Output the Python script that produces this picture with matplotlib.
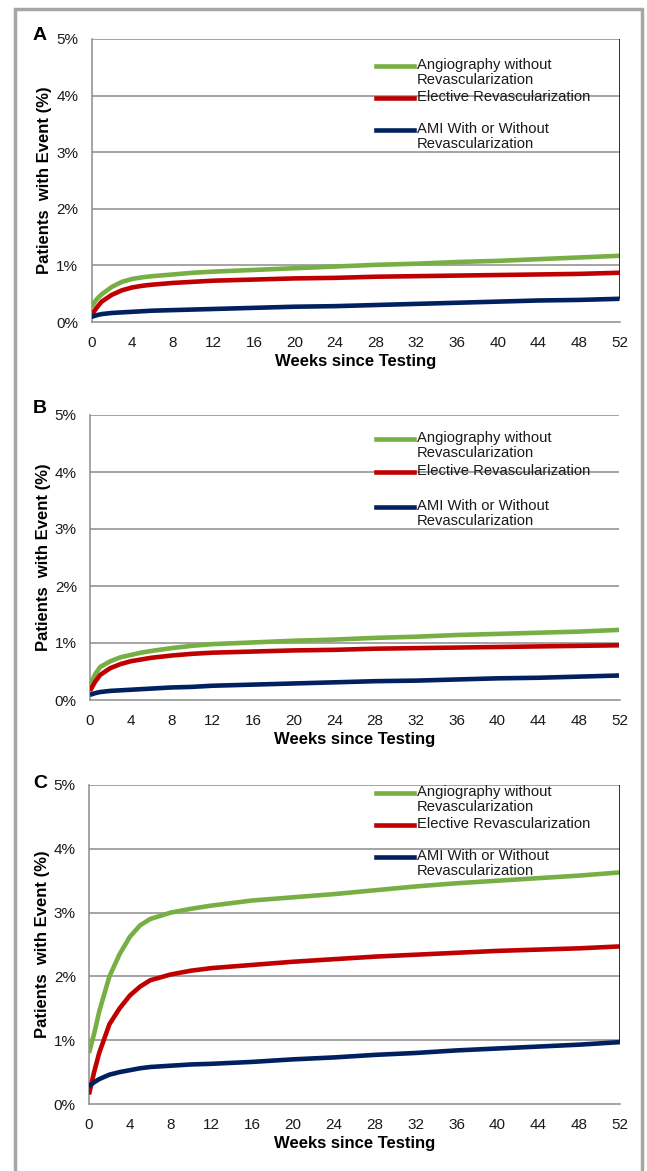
import matplotlib
matplotlib.use("Agg")
import matplotlib.pyplot as plt
from matplotlib.patches import Rectangle
from matplotlib.lines import Line2D

plt.rcParams['font.family'] = ['Liberation Sans', 'DejaVu Sans']

# data (percent of patients with event)
weeks = [0, 0.5, 1, 2, 3, 4, 5, 6, 8, 10, 12, 16, 20, 24, 28, 32, 36, 40, 44, 48, 52]

angio_a = [0.27, 0.40, 0.49, 0.62, 0.71, 0.76, 0.79, 0.81, 0.84, 0.87, 0.89, 0.92, 0.95, 0.98, 1.01, 1.03, 1.06, 1.08, 1.11, 1.14, 1.17]
elect_a = [0.12, 0.25, 0.36, 0.48, 0.56, 0.61, 0.64, 0.66, 0.69, 0.71, 0.73, 0.75, 0.77, 0.78, 0.80, 0.81, 0.82, 0.83, 0.84, 0.85, 0.87]
ami_a = [0.09, 0.12, 0.14, 0.16, 0.17, 0.18, 0.19, 0.20, 0.21, 0.22, 0.23, 0.25, 0.27, 0.28, 0.30, 0.32, 0.34, 0.36, 0.38, 0.39, 0.41]

angio_b = [0.26, 0.45, 0.58, 0.68, 0.75, 0.79, 0.83, 0.86, 0.91, 0.95, 0.98, 1.01, 1.04, 1.06, 1.09, 1.11, 1.14, 1.16, 1.18, 1.20, 1.23]
elect_b = [0.16, 0.32, 0.44, 0.56, 0.63, 0.68, 0.71, 0.74, 0.78, 0.81, 0.83, 0.85, 0.87, 0.88, 0.90, 0.91, 0.92, 0.93, 0.94, 0.95, 0.96]
ami_b = [0.09, 0.12, 0.14, 0.16, 0.17, 0.18, 0.19, 0.20, 0.22, 0.23, 0.25, 0.27, 0.29, 0.31, 0.33, 0.34, 0.36, 0.38, 0.39, 0.41, 0.43]

angio_c = [0.80, 1.10, 1.45, 2.00, 2.35, 2.62, 2.80, 2.90, 3.00, 3.06, 3.11, 3.19, 3.24, 3.29, 3.35, 3.41, 3.46, 3.50, 3.54, 3.58, 3.63]
elect_c = [0.15, 0.50, 0.80, 1.25, 1.50, 1.70, 1.84, 1.94, 2.03, 2.09, 2.13, 2.18, 2.23, 2.27, 2.31, 2.34, 2.37, 2.40, 2.42, 2.44, 2.47]
ami_c = [0.28, 0.34, 0.39, 0.46, 0.50, 0.53, 0.56, 0.58, 0.60, 0.62, 0.63, 0.66, 0.70, 0.73, 0.77, 0.80, 0.84, 0.87, 0.90, 0.93, 0.97]

series_labels = ["Angiography without\nRevascularization",
                 "Elective Revascularization",
                 "AMI With or Without\nRevascularization"]
panel_letters = ["A", "B", "C"]
x_ticks = list(range(0, 53, 4))
y_ticks = [0, 1, 2, 3, 4, 5]

colors = ["#77AF45", "#C00000", "#002060"]
grid_col = "#8C8C8C"

W, H = 647, 1171
fig = plt.figure(figsize=(W / 100, H / 100), dpi=100)


def fx(px):
    return px / W


def fy(py):
    return 1 - py / H


# panel boxes in pixels: left, right, top, bottom
boxes = [(91.5, 619.5, 39, 322), (90, 619.5, 415, 700), (89, 620, 785, 1104)]
legend_rows = [(66, 98, 130), (439, 472, 507), (793, 825, 857)]
letter_y = [35, 409, 783]
panels = [(angio_a, elect_a, ami_a), (angio_b, elect_b, ami_b), (angio_c, elect_c, ami_c)]

for i, (l, r, t, b) in enumerate(boxes):
    ax = fig.add_axes([fx(l), fy(b), fx(r) - fx(l), fy(t) - fy(b)])
    for y in y_ticks[1:]:
        ax.axhline(y, color=grid_col, lw=1.1, zorder=1)
    for vals, c in zip(panels[i], colors):
        ax.plot(weeks, vals, color=c, lw=3.3, solid_capstyle='butt', zorder=3)
    # excel artefact: blue series closes up to the top at the last week
    ax.vlines(weeks[-1], panels[i][2][-1], y_ticks[-1], color=colors[2], lw=1.3, zorder=3)

    ax.set_xlim(0, 52)
    ax.set_ylim(0, 5)
    ax.set_xticks(x_ticks)
    ax.set_yticks(y_ticks)
    ax.set_yticklabels([f"{v}%" for v in y_ticks])
    ax.tick_params(length=0, labelsize=11, colors="#1a1a1a")
    ax.tick_params(axis='x', pad=10)
    ax.tick_params(axis='y', pad=9.5)
    for s in ["top", "right"]:
        ax.spines[s].set_visible(False)
    for s in ["left", "bottom"]:
        ax.spines[s].set_color(grid_col)
        ax.spines[s].set_linewidth(1.1)
    ax.set_xlabel("Weeks since Testing", fontsize=12, fontweight='bold', labelpad=3)
    ax.set_ylabel("Patients  with Event (%)", fontsize=12, fontweight='bold', labelpad=3)

    fig.text(fx(40), fy(letter_y[i]), panel_letters[i], fontsize=14, fontweight='bold',
             ha='center', va='center')

    # legend drawn by hand so the handle sits on the first text line
    for row_y, lab, c in zip(legend_rows[i], series_labels, colors):
        fig.add_artist(Line2D([fx(376), fx(414)], [fy(row_y), fy(row_y)], color=c, lw=3.3,
                              transform=fig.transFigure))
        fig.text(fx(417), fy(row_y - 8), lab, fontsize=10.6, ha='left', va='top',
                 linespacing=1.12, color="#1a1a1a")

# grey outer frame
fig.add_artist(Rectangle((fx(14.5), fy(1190)), fx(641.5) - fx(14.5), fy(8.5) - fy(1190),
                         fill=False, edgecolor="#A6A6A6", lw=2.5, transform=fig.transFigure,
                         clip_on=False))

fig.savefig("out.png", dpi=100)
